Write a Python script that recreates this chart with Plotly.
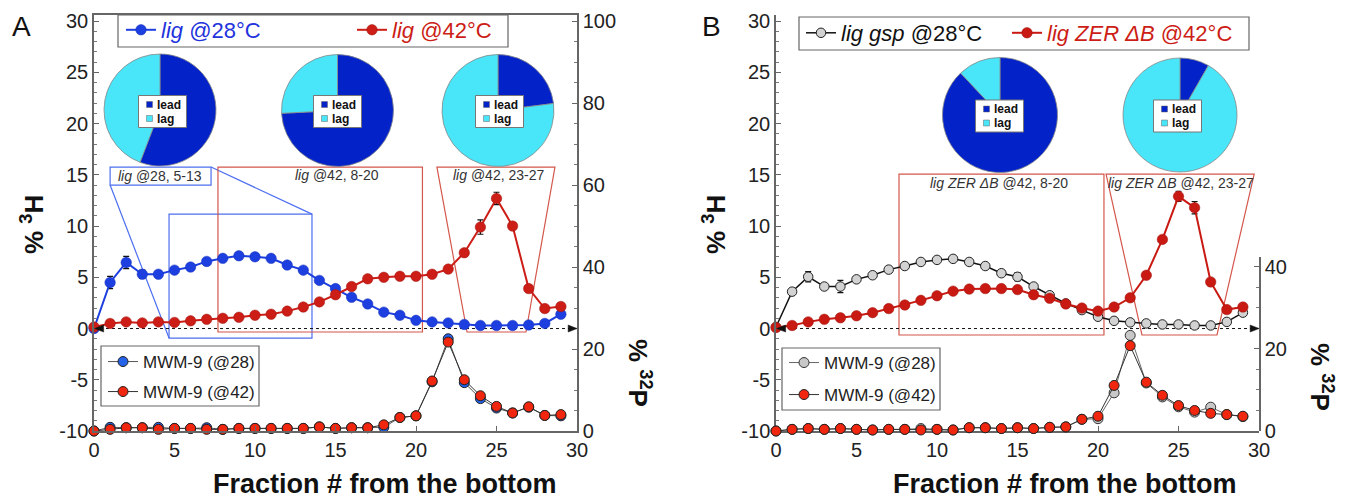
import plotly.graph_objects as go

W, H = 1351, 502
FONT = "Liberation Sans, Arial, sans-serif"

fractions = list(range(30))

# ---- Panel A: % 3H (left axis) ----
lig28_A = [0.0, 4.5, 6.45, 5.3, 5.3, 5.7, 6.0, 6.55, 6.85, 7.1, 7.0, 6.85, 6.2, 5.7, 4.7,
           3.9, 3.05, 2.4, 1.6, 1.3, 0.8, 0.65, 0.55, 0.4, 0.3, 0.3, 0.3, 0.35, 0.5, 1.4]
lig28_A_err = [0, 0.6, 0.6, 0.4, 0, 0, 0, 0, 0, 0, 0, 0, 0, 0, 0.3,
               0, 0, 0, 0, 0, 0, 0, 0, 0, 0, 0, 0, 0, 0, 0]
lig42_A = [0.15, 0.5, 0.65, 0.55, 0.65, 0.6, 0.75, 0.9, 1.0, 1.1, 1.3, 1.4, 1.7, 2.1, 2.6,
           3.3, 4.1, 4.85, 5.0, 5.1, 5.1, 5.3, 5.8, 7.4, 9.9, 12.7, 10.0, 3.9, 1.95, 2.15]
lig42_A_err = [0, 0, 0, 0, 0, 0, 0, 0, 0, 0, 0, 0, 0, 0, 0,
               0, 0, 0, 0, 0, 0, 0, 0, 0.3, 0.7, 0.6, 0.3, 0, 0, 0]
# ---- Panel A: % 32P (right axis) ----
mwm28_A = [0.0, 0.9, 0.8, 0.8, 0.9, 0.6, 0.6, 0.8, 0.4, 0.6, 0.6, 0.6, 0.6, 0.6, 1.0,
           0.6, 0.8, 0.8, 0.9, 3.3, 3.7, 12.0, 22.5, 11.8, 7.9, 5.6, 4.4, 5.8, 3.8, 3.7]
mwm42_A = [0.0, 0.4, 0.8, 0.8, 0.4, 0.65, 0.65, 0.4, 0.4, 0.65, 0.65, 0.65, 0.65, 0.65, 1.0,
           0.65, 0.8, 0.8, 1.5, 3.3, 3.7, 12.2, 21.7, 12.5, 8.6, 6.0, 4.4, 5.9, 3.8, 4.0]

# ---- Panel B: % 3H (left axis) ----
gsp28_B = [0.15, 3.6, 5.05, 4.1, 4.1, 4.8, 5.2, 5.75, 6.1, 6.5, 6.7, 6.8, 6.5, 6.1, 5.4,
           5.05, 4.1, 3.25, 2.45, 1.8, 1.15, 0.75, 0.6, 0.5, 0.4, 0.4, 0.3, 0.3, 0.65, 1.55]
gsp28_B_err = [0, 0.3, 0.5, 0, 0.6, 0, 0, 0, 0, 0, 0, 0, 0, 0, 0.3,
               0.4, 0, 0.3, 0, 0, 0, 0, 0, 0, 0, 0, 0, 0, 0, 0]
zer42_B = [0.1, 0.3, 0.65, 0.9, 1.05, 1.25, 1.55, 1.95, 2.3, 2.75, 3.2, 3.65, 3.85, 3.9, 3.9,
           3.8, 3.3, 2.95, 2.4, 2.0, 1.7, 2.1, 3.0, 5.2, 8.7, 12.9, 11.8, 4.55, 1.85, 2.1]
zer42_B_err = [0, 0, 0, 0, 0, 0, 0, 0, 0, 0, 0, 0, 0, 0, 0,
               0, 0, 0, 0, 0, 0, 0, 0, 0, 0, 0.5, 0.6, 0.3, 0, 0]
# ---- Panel B: % 32P (right axis) ----
mwm28_B = [0.0, 0.4, 0.6, 0.4, 0.6, 0.4, 0.25, 0.4, 0.4, 0.6, 0.4, 0.25, 0.8, 0.8, 0.6,
           0.8, 0.6, 0.9, 1.0, 2.85, 3.0, 9.3, 23.3, 11.7, 8.3, 5.9, 4.6, 5.8, 4.0, 3.5]
mwm42_B = [0.0, 0.4, 0.6, 0.4, 0.6, 0.4, 0.25, 0.4, 0.4, 0.25, 0.4, 0.25, 0.8, 0.8, 0.6,
           0.8, 0.6, 0.9, 1.0, 2.85, 3.6, 11.1, 20.8, 11.9, 8.7, 6.2, 5.0, 4.3, 4.0, 3.6]

# ---- strand composition of pooled fractions (lead, lag %) ----
pie_labels = ["lead", "lag"]
pie_A1 = [55.8, 44.2]   # lig @28, 5-13
pie_A2 = [74.2, 25.8]   # lig @42, 8-20
pie_A3 = [23.0, 77.0]   # lig @42, 23-27
pie_B1 = [88.0, 12.0]   # lig ZER dB @42, 8-20
pie_B2 = [8.3, 91.7]    # lig ZER dB @42, 23-27

LEAD, LAG = "#0323c8", "#48e6f8"
BLUE, RED = "#1d3fe0", "#cc1d16"
BOX_BLUE, BOX_RED = "#4d6ef0", "#d4574c"


def px(x):
    return x / W


def py(y):
    return 1 - y / H


fig = go.Figure()

# ---- traces ----
err_style = dict(type="data", color="#111", thickness=1.2, width=3)

fig.add_trace(go.Scatter(x=fractions, y=mwm28_A, xaxis="x", yaxis="y2", mode="lines+markers",
                         name="MWM-9 (@28)", legend="legend3", cliponaxis=False,
                         line=dict(color="#555", width=1),
                         marker=dict(size=10, color="#2462ea", line=dict(color="#222", width=1))))
fig.add_trace(go.Scatter(x=fractions, y=mwm42_A, xaxis="x", yaxis="y2", mode="lines+markers",
                         name="MWM-9 (@42)", legend="legend4", cliponaxis=False,
                         line=dict(color="#333", width=1),
                         marker=dict(size=10, color="#f0260e", line=dict(color="#222", width=1))))
fig.add_trace(go.Scatter(x=fractions, y=lig28_A, xaxis="x", yaxis="y", mode="lines+markers",
                         name="<i>lig</i> @28°C", legend="legend", cliponaxis=False,
                         error_y=dict(array=lig28_A_err, **err_style),
                         line=dict(color=BLUE, width=2),
                         marker=dict(size=10.5, color=BLUE, line=dict(color="#1530b8", width=0.5))))
fig.add_trace(go.Scatter(x=fractions, y=lig42_A, xaxis="x", yaxis="y", mode="lines+markers",
                         name="<i>lig</i> @42°C", legend="legend2", cliponaxis=False,
                         error_y=dict(array=lig42_A_err, **err_style),
                         line=dict(color=RED, width=2),
                         marker=dict(size=10.5, color=RED, line=dict(color="#a01510", width=0.5))))

fig.add_trace(go.Scatter(x=fractions, y=mwm28_B, xaxis="x2", yaxis="y4", mode="lines+markers",
                         name="MWM-9 (@28)", legend="legend7", cliponaxis=False,
                         line=dict(color="#666", width=1),
                         marker=dict(size=10, color="#c8c8c8", line=dict(color="#333", width=1))))
fig.add_trace(go.Scatter(x=fractions, y=mwm42_B, xaxis="x2", yaxis="y4", mode="lines+markers",
                         name="MWM-9 (@42)", legend="legend8", cliponaxis=False,
                         line=dict(color="#333", width=1),
                         marker=dict(size=10, color="#f0260e", line=dict(color="#222", width=1))))
fig.add_trace(go.Scatter(x=fractions, y=gsp28_B, xaxis="x2", yaxis="y3", mode="lines+markers",
                         name="<i>lig gsp</i> @28°C", legend="legend5", cliponaxis=False,
                         error_y=dict(array=gsp28_B_err, **err_style),
                         line=dict(color="#111", width=1.5),
                         marker=dict(size=9.5, color="#d2d2d2", line=dict(color="#222", width=1))))
fig.add_trace(go.Scatter(x=fractions, y=zer42_B, xaxis="x2", yaxis="y3", mode="lines+markers",
                         name="<i>lig ZER ΔB</i> @42°C", legend="legend6", cliponaxis=False,
                         error_y=dict(array=zer42_B_err, **err_style),
                         line=dict(color="#c81a12", width=2),
                         marker=dict(size=10.5, color="#c81a12", line=dict(color="#a01510", width=0.5))))

# ---- pies ----
pies = [(pie_A1, 160, 110, 56), (pie_A2, 337.5, 110.5, 56), (pie_A3, 498, 110.5, 56),
        (pie_B1, 1000, 115, 57.5), (pie_B2, 1180, 115, 57)]
for vals, cx, cy, r in pies:
    fig.add_trace(go.Pie(labels=pie_labels, values=vals, sort=False, direction="clockwise",
                         rotation=0, textinfo="none", hoverinfo="skip", showlegend=False,
                         marker=dict(colors=[LEAD, LAG], line=dict(color="#888", width=0.8)),
                         domain=dict(x=[px(cx - r), px(cx + r)], y=[py(cy + r), py(cy - r)])))

# ---- axes ----
y_dom = [py(431), py(15)]
tick_font = dict(family=FONT, size=20, color="#222")
axis_common = dict(showline=True, linecolor="#666", linewidth=1.5, showgrid=False, zeroline=False,
                   ticks="inside", ticklen=5, tickcolor="#666", tickfont=tick_font)
left_vals = [-10, -5, 0, 5, 10, 15, 20, 25, 30]
left_axis = dict(range=[-10, 30.6], tickmode="array", tickvals=left_vals,
                 ticktext=[str(v) for v in left_vals],
                 minor=dict(dtick=1, ticks="inside", ticklen=3, tickcolor="#777"), **axis_common)
x_axis = dict(range=[0, 30], tickmode="linear", tick0=0, dtick=5, **axis_common)
right_minor = dict(dtick=5, ticks="inside", ticklen=3, tickcolor="#777")

fig.update_layout(
    xaxis=dict(domain=[px(94), px(577)], anchor="y", mirror=True, **x_axis),
    yaxis=dict(domain=y_dom, anchor="x", **left_axis),
    yaxis2=dict(range=[0, 101.5], overlaying="y", side="right", anchor="x", tickmode="linear",
                tick0=0, dtick=20, minor=right_minor, **axis_common),
    xaxis2=dict(domain=[px(776), px(1259)], anchor="y3", **x_axis),
    yaxis3=dict(domain=y_dom, anchor="x2", **left_axis),
    yaxis4=dict(domain=[py(431), py(257)], range=[0, 42.4], side="right", anchor="x2",
                tickmode="linear", tick0=0, dtick=20, minor=right_minor, **axis_common),
)


# ---- legends (one entry each) ----
def leg(x_marker, y_center, size, color):
    return dict(x=px(x_marker - 20), y=py(y_center), xanchor="left", yanchor="middle",
                bgcolor="rgba(0,0,0,0)", borderwidth=0,
                font=dict(family=FONT, size=size, color=color))


fig.update_layout(
    legend=leg(141, 30, 22, "#2233dd"),
    legend2=leg(372, 30, 22, "#cc1d16"),
    legend3=leg(123, 362, 17, "#222"),
    legend4=leg(123, 392, 17, "#222"),
    legend5=leg(821, 33, 22, "#111"),
    legend6=leg(1027, 33, 22, "#cc1d16"),
    legend7=leg(804, 363, 17, "#222"),
    legend8=leg(804, 395, 17, "#222"),
)

shapes = []
annotations = []

# legend frames
for x0, x1, y0, y1 in [(118, 508, 15, 47), (101, 259, 346, 406),
                       (799, 1249, 17, 50), (782, 940, 348, 410)]:
    shapes.append(dict(type="rect", xref="paper", yref="paper", x0=px(x0), x1=px(x1),
                       y0=py(y1), y1=py(y0), line=dict(color="#666", width=1.2)))

# pie keys
for bx, by in [(162.5, 111.5), (337.5, 111.5), (499.5, 111.5), (999.5, 116), (1177.5, 116)]:
    shapes.append(dict(type="rect", xref="paper", yref="paper", x0=px(bx - 24), x1=px(bx + 24),
                       y0=py(by + 16), y1=py(by - 16), fillcolor="white",
                       line=dict(color="#777", width=1), layer="above"))
    for dy, col, txt in [(-7, LEAD, "lead"), (7, LAG, "lag")]:
        shapes.append(dict(type="rect", xref="paper", yref="paper", x0=px(bx - 16), x1=px(bx - 10),
                           y0=py(by + dy + 3), y1=py(by + dy - 3), fillcolor=col,
                           line=dict(color="#666", width=0.5), layer="above"))
        annotations.append(dict(x=px(bx - 7), y=py(by + dy), xref="paper", yref="paper",
                                text="<b>%s</b>" % txt, showarrow=False, xanchor="left",
                                yanchor="middle", borderpad=0,
                                font=dict(family=FONT, size=12, color="#111")))

# pooled-fraction outlines, panel A (data coordinates)
line_b = dict(color=BOX_BLUE, width=1.2)
line_r = dict(color=BOX_RED, width=1.2)
shapes += [
    dict(type="rect", xref="x", yref="y", x0=1.0, x1=7.27, y0=14.0, y1=15.76, line=line_b, layer="below"),
    dict(type="rect", xref="x", yref="y", x0=4.66, x1=13.54, y0=-0.93, y1=11.17, line=line_b, layer="below"),
    dict(type="line", xref="x", yref="y", x0=7.27, y0=15.76, x1=13.54, y1=11.17, line=line_b, layer="below"),
    dict(type="line", xref="x", yref="y", x0=1.0, y0=14.0, x1=4.66, y1=-0.93, line=line_b, layer="below"),
    dict(type="rect", xref="x", yref="y", x0=7.7, x1=20.4, y0=-0.34, y1=15.76, line=line_r, layer="below"),
    dict(type="path", xref="x", yref="y", path="M 21.3,15.76 L 28.63,15.76 L 26.83,-0.34 L 23.17,-0.34 Z",
         line=line_r, layer="below"),
    # panel B
    dict(type="rect", xref="x2", yref="y3", x0=7.64, x1=20.37, y0=-0.63, y1=15.07, line=line_r, layer="below"),
    dict(type="path", xref="x2", yref="y3", path="M 20.5,15.07 L 29.7,15.07 L 27.39,-0.63 L 22.73,-0.63 Z",
         line=line_r, layer="below"),
]

# dotted baselines at 0 with arrowheads at both ends
for xr, yr in [("x", "y"), ("x2", "y3")]:
    shapes.append(dict(type="line", xref=xr, yref=yr, x0=0, x1=29.8, y0=0, y1=0,
                       line=dict(color="#111", width=1, dash="dot"), layer="below"))
    for xa, path in [(0.35, "M -5,0 L 4,3.5 L 4,-3.5 Z"), (29.7, "M 5,0 L -4,3.5 L -4,-3.5 Z")]:
        shapes.append(dict(type="path", xref=xr, yref=yr, xsizemode="pixel", ysizemode="pixel",
                           xanchor=xa, yanchor=0, path=path, fillcolor="#111",
                           line=dict(color="#111", width=0.5)))

# region captions
cap_font = dict(family=FONT, size=14, color="#333")
for x, y, t in [(160, 176, "<i>lig</i> @28, 5-13"), (337, 175, "<i>lig</i> @42, 8-20"),
                (498, 175, "<i>lig</i> @42, 23-27"), (999, 183, "<i>lig ZER ΔB</i> @42, 8-20"),
                (1181, 183, "<i>lig ZER ΔB</i> @42, 23-27")]:
    annotations.append(dict(x=px(x), y=py(y), xref="paper", yref="paper", text=t, showarrow=False,
                            xanchor="center", yanchor="middle", font=cap_font))

# axis titles and panel letters
title_font = dict(family=FONT, size=26, color="#111")
for x, y, t, ang in [(32, 225, "<b>% <sup>3</sup>H</b>", -90), (714, 225, "<b>% <sup>3</sup>H</b>", -90),
                     (640, 373, "<b>% <sup>32</sup>P</b>", 90), (1322, 377, "<b>% <sup>32</sup>P</b>", 90)]:
    annotations.append(dict(x=px(x), y=py(y), xref="paper", yref="paper", text=t, textangle=ang,
                            showarrow=False, xanchor="center", yanchor="middle", font=title_font))
for x in (385, 1065):
    annotations.append(dict(x=px(x), y=py(484), xref="paper", yref="paper",
                            text="<b>Fraction # from the bottom</b>", showarrow=False,
                            xanchor="center", yanchor="middle", borderpad=0,
                            font=dict(family=FONT, size=27, color="#111")))
for x, t in [(22, "A"), (711, "B")]:
    annotations.append(dict(x=px(x), y=py(27), xref="paper", yref="paper", text=t, showarrow=False,
                            xanchor="center", yanchor="middle",
                            font=dict(family=FONT, size=28, color="#111")))

fig.update_layout(
    width=W, height=H,
    margin=dict(l=0, r=0, t=0, b=0, autoexpand=False),
    paper_bgcolor="white", plot_bgcolor="rgba(0,0,0,0)",
    font=dict(family=FONT),
    hovermode=False,
    shapes=shapes, annotations=annotations,
)

fig.write_html("out.html")
